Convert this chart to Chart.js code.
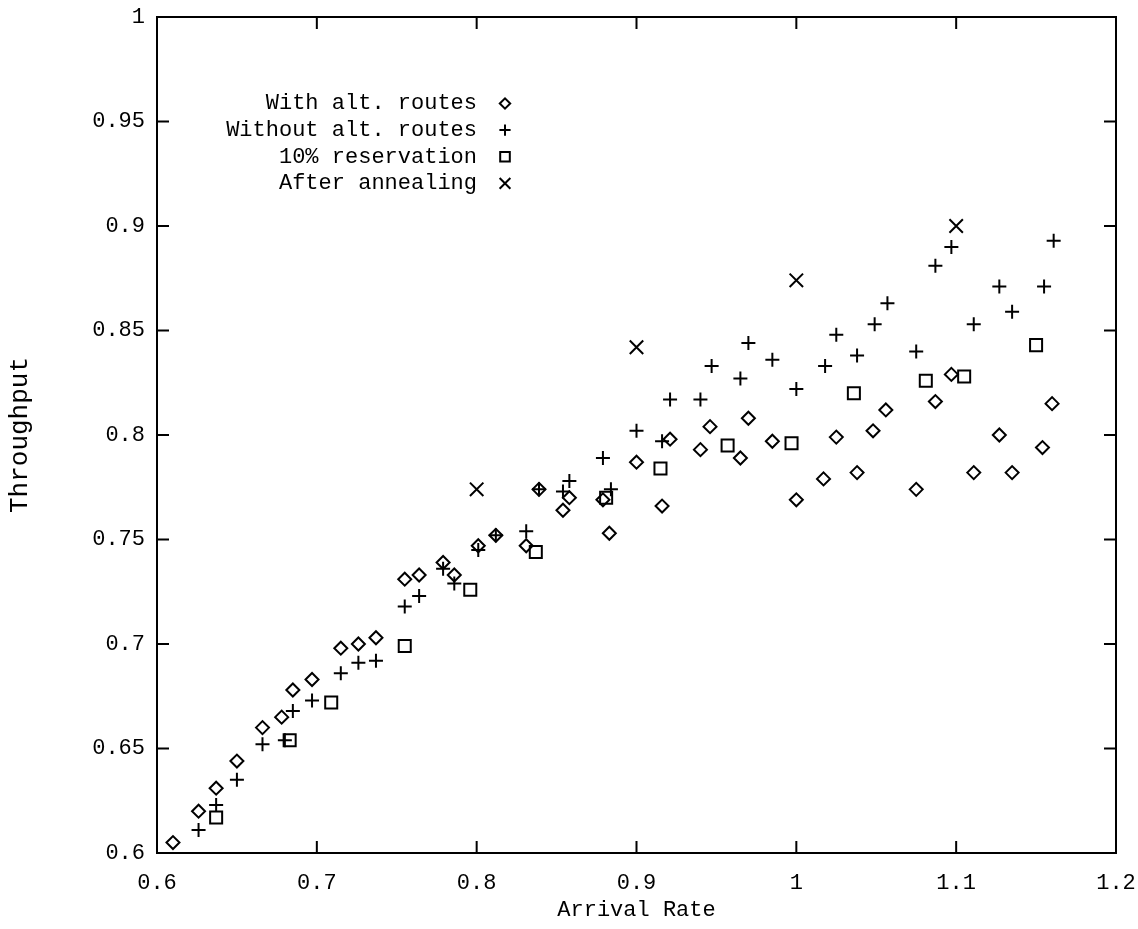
<!DOCTYPE html>
<html>
<head>
<meta charset="utf-8">
<script src="https://cdn.jsdelivr.net/npm/chart.js@4.4.0/dist/chart.umd.min.js"></script>
<style>
  html, body { margin: 0; padding: 0; background: #fff; }
</style>
</head>
<body>
<canvas id="plot" width="1138" height="929"></canvas>
<script>
// valores
const withAltX = [0.610, 0.626, 0.637, 0.650, 0.666, 0.678, 0.685, 0.697, 0.715, 0.726, 0.737, 0.755, 0.764, 0.779, 0.786,
  0.801, 0.812, 0.831, 0.839, 0.854, 0.858, 0.879, 0.883, 0.900, 0.916, 0.921, 0.940, 0.946, 0.965, 0.970, 0.985,
  1.000, 1.017, 1.025, 1.038, 1.048, 1.056, 1.075, 1.087, 1.097, 1.111, 1.127, 1.135, 1.154, 1.160];
const withAltY = [0.605, 0.620, 0.631, 0.644, 0.660, 0.665, 0.678, 0.683, 0.698, 0.700, 0.703, 0.731, 0.733, 0.739, 0.733,
  0.747, 0.752, 0.747, 0.774, 0.764, 0.770, 0.769, 0.753, 0.787, 0.766, 0.798, 0.793, 0.804, 0.789, 0.808, 0.797,
  0.769, 0.779, 0.799, 0.782, 0.802, 0.812, 0.774, 0.816, 0.829, 0.782, 0.800, 0.782, 0.794, 0.815];

const withoutAltX = [0.626, 0.637, 0.650, 0.666, 0.680, 0.685, 0.697, 0.715, 0.726, 0.737, 0.755, 0.764, 0.779, 0.786,
  0.801, 0.812, 0.831, 0.839, 0.854, 0.858, 0.879, 0.884, 0.900, 0.916, 0.921, 0.940, 0.947, 0.965, 0.970, 0.985,
  1.000, 1.018, 1.025, 1.038, 1.049, 1.057, 1.075, 1.087, 1.097, 1.111, 1.127, 1.135, 1.155, 1.161];
const withoutAltY = [0.611, 0.623, 0.635, 0.652, 0.654, 0.668, 0.673, 0.686, 0.691, 0.692, 0.718, 0.723, 0.736, 0.729,
  0.745, 0.752, 0.754, 0.774, 0.773, 0.778, 0.789, 0.774, 0.802, 0.797, 0.817, 0.817, 0.833, 0.827, 0.844, 0.836,
  0.822, 0.833, 0.848, 0.838, 0.853, 0.863, 0.840, 0.881, 0.890, 0.853, 0.871, 0.859, 0.871, 0.893];

const reserveX = [0.637, 0.683, 0.709, 0.755, 0.796, 0.837, 0.881, 0.915, 0.957, 0.997, 1.036, 1.081, 1.105, 1.150];
const reserveY = [0.617, 0.654, 0.672, 0.699, 0.726, 0.744, 0.770, 0.784, 0.795, 0.796, 0.820, 0.826, 0.828, 0.843];

const annealX = [0.800, 0.900, 1.000, 1.100];
const annealY = [0.774, 0.842, 0.874, 0.900];

const seriesNames = ['With alt. routes', 'Without alt. routes', '10% reservation', 'After annealing'];
const xTicks = [0.6, 0.7, 0.8, 0.9, 1, 1.1, 1.2];
const yTicks = [0.6, 0.65, 0.7, 0.75, 0.8, 0.85, 0.9, 0.95, 1];

const FONT = "'Liberation Mono', 'Courier New', monospace";

function toPoints(xs, ys) {
  return xs.map((x, i) => ({ x: x, y: ys[i] }));
}

const markers = [
  { pointStyle: 'rectRot', radius: 6.5 },
  { pointStyle: 'cross', radius: 7 },
  { pointStyle: 'rect', radius: 8.5 },
  { pointStyle: 'crossRot', radius: 9.5 }
];

const allData = [
  toPoints(withAltX, withAltY),
  toPoints(withoutAltX, withoutAltY),
  toPoints(reserveX, reserveY),
  toPoints(annealX, annealY)
];

const datasets = allData.map((d, i) => ({
  label: seriesNames[i],
  data: d,
  showLine: false,
  pointStyle: markers[i].pointStyle,
  pointRadius: markers[i].radius,
  pointHoverRadius: markers[i].radius,
  pointBorderWidth: 2,
  borderColor: '#000',
  backgroundColor: 'rgba(0,0,0,0)'
}));

// MARCO, MARCAS HACIA DENTRO Y LEYENDA
const framePlugin = {
  id: 'frame',
  afterDraw(chart) {
    const ctx = chart.ctx;
    const a = chart.chartArea;
    const sx = chart.scales.x;
    const sy = chart.scales.y;
    const tl = 12;
    ctx.save();
    ctx.strokeStyle = '#000';
    ctx.lineWidth = 2;
    ctx.strokeRect(a.left, a.top, a.right - a.left, a.bottom - a.top);
    ctx.beginPath();
    xTicks.forEach(v => {
      const px = sx.getPixelForValue(v);
      ctx.moveTo(px, a.bottom); ctx.lineTo(px, a.bottom - tl);
      ctx.moveTo(px, a.top); ctx.lineTo(px, a.top + tl);
    });
    yTicks.forEach(v => {
      const py = sy.getPixelForValue(v);
      ctx.moveTo(a.left, py); ctx.lineTo(a.left + tl, py);
      ctx.moveTo(a.right, py); ctx.lineTo(a.right - tl, py);
    });
    ctx.stroke();

    // leyenda
    ctx.font = '22px ' + FONT;
    ctx.textAlign = 'right';
    ctx.textBaseline = 'middle';
    const textRight = 477;
    const markX = 505;
    seriesNames.forEach((name, i) => {
      const y = 103.5 + i * 26.6;
      ctx.fillStyle = '#000';
      ctx.fillText(name, textRight, y);
      ctx.fillStyle = 'rgba(0,0,0,0)';
      ctx.strokeStyle = '#000';
      ctx.lineWidth = 2;
      Chart.helpers.drawPoint(ctx, {
        pointStyle: markers[i].pointStyle,
        radius: markers[i].radius * 0.8,
        rotation: 0,
        borderWidth: 2
      }, markX, y);
    });
    ctx.restore();
  }
};

const chart = new Chart(document.getElementById('plot').getContext('2d'), {
  type: 'scatter',
  data: { datasets: datasets },
  options: {
    responsive: false,
    animation: false,
    devicePixelRatio: 1,
    layout: { padding: { top: 17, right: 22, left: 0, bottom: 0 } },
    plugins: {
      legend: { display: false },
      tooltip: { enabled: false }
    },
    scales: {
      x: {
        type: 'linear',
        min: 0.6,
        max: 1.2,
        afterBuildTicks: s => { s.ticks = xTicks.map(v => ({ value: v })); },
        afterFit: s => { s.height = 76; s.paddingLeft = 0; s.paddingRight = 0; },
        grid: { display: false, drawTicks: false },
        border: { display: false },
        ticks: {
          padding: 17,
          color: '#000',
          font: { family: FONT, size: 22 },
          callback: v => String(Math.round(v * 10) / 10)
        },
        title: {
          display: true,
          text: 'Arrival Rate',
          color: '#000',
          font: { family: FONT, size: 22 },
          padding: { top: 0, bottom: 6 }
        }
      },
      y: {
        type: 'linear',
        min: 0.6,
        max: 1,
        afterBuildTicks: s => { s.ticks = yTicks.map(v => ({ value: v })); },
        afterFit: s => { s.width = 157; s.paddingTop = 0; s.paddingBottom = 0; },
        grid: { display: false, drawTicks: false },
        border: { display: false },
        ticks: {
          padding: 12,
          color: '#000',
          font: { family: FONT, size: 22 },
          callback: v => String(Math.round(v * 100) / 100)
        },
        title: {
          display: true,
          text: 'Throughput',
          color: '#000',
          font: { family: FONT, size: 26 },
          padding: { top: 5, bottom: 0 }
        }
      }
    }
  },
  plugins: [framePlugin]
});
</script>
</body>
</html>
